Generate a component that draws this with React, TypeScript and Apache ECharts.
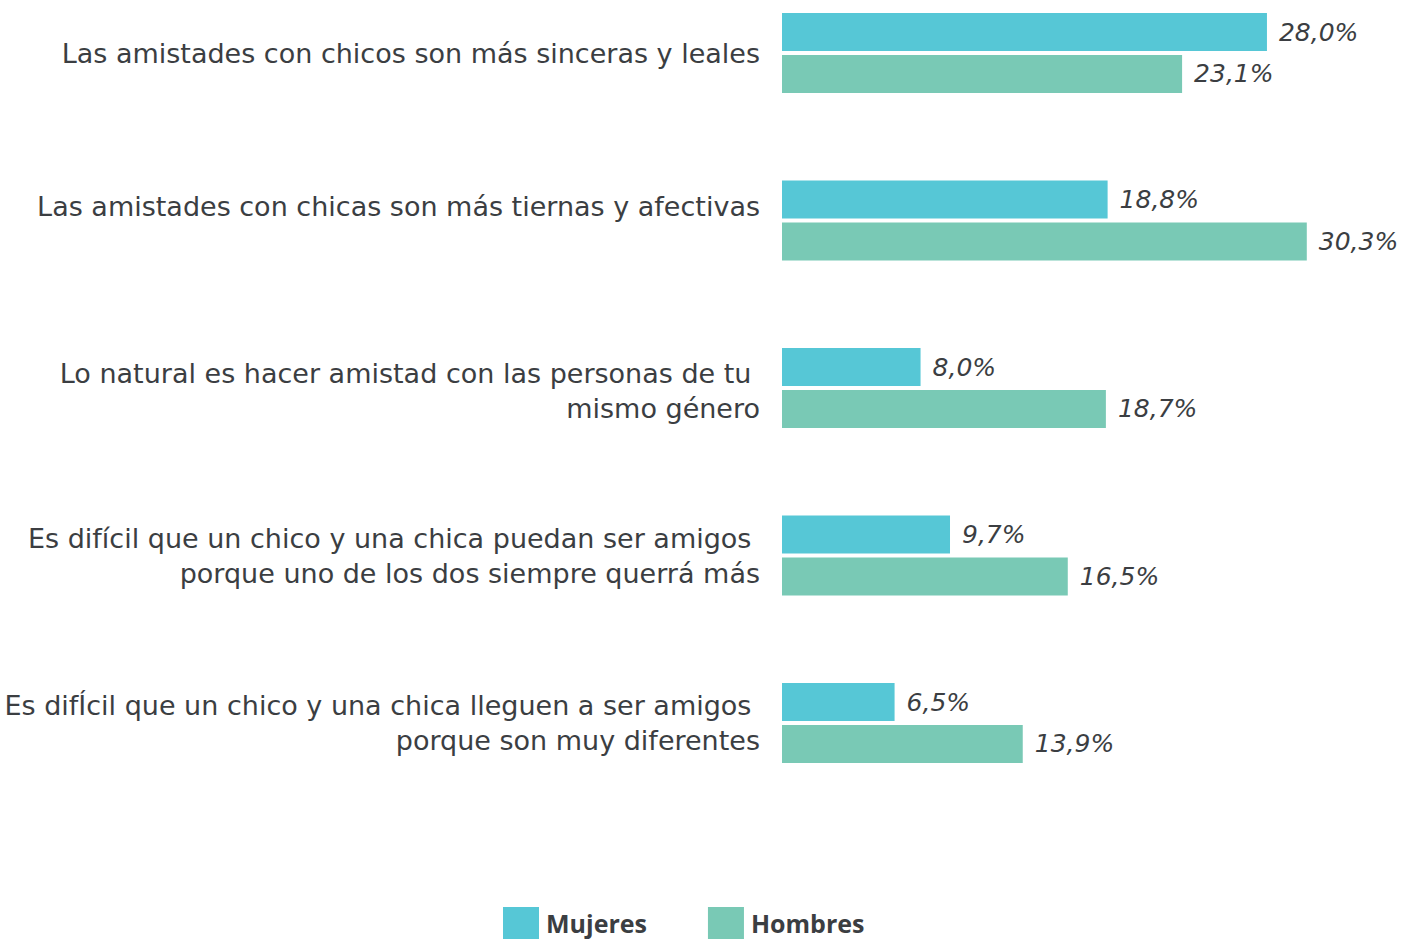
import React, { useEffect, useRef } from "react";
import * as echarts from "echarts";

const categories = [
  "Las amistades con chicos son más sinceras y leales",
  "Las amistades con chicas son más tiernas y afectivas",
  "Lo natural es hacer amistad con las personas de tu \nmismo género",
  "Es difícil que un chico y una chica puedan ser amigos \nporque uno de los dos siempre querrá más",
  "Es difÍcil que un chico y una chica lleguen a ser amigos \nporque son muy diferentes",
];
const mujeres = [28.0, 18.8, 8.0, 9.7, 6.5];
const hombres = [23.1, 30.3, 18.7, 16.5, 13.9];
const seriesNames = ["Mujeres", "Hombres"];
const colors = ["#56C7D6", "#79C9B5"];

const textColor = "#3b3e42";

export default function App() {
  const ref = useRef<HTMLDivElement>(null);
  useEffect(() => {
    if (!ref.current) return;
    const chart = echarts.init(ref.current, undefined, { renderer: "svg" });
    const labelOpt = {
      show: true,
      position: "right",
      distance: 12,
      color: textColor,
      fontFamily: "DejaVu Sans",
      fontStyle: "italic",
      fontSize: 25,
      formatter: (p: any) => p.value.toFixed(1).replace(".", ",") + "%",
    };
    const catFont = {
      color: textColor,
      fontFamily: "DejaVu Sans",
      fontSize: 27,
      lineHeight: 35,
    };
    chart.setOption({
      animation: false,
      grid: { left: 782, top: 53, width: 17.32 * 35, height: 670 },
      xAxis: {
        type: "value",
        min: 0,
        max: 35,
        show: false,
      },
      yAxis: {
        type: "category",
        data: categories,
        inverse: true,
        boundaryGap: false,
        axisLine: { show: false },
        axisTick: { show: false },
        splitLine: { show: false },
        axisLabel: {
          margin: 22,
          ...catFont,
          align: "right",
          formatter: (v: string, i: number) => {
            if (i === 1) return v.split("\n").map((l) => `{up|${l}}`).join("\n");
            if (i === 2) return v.split("\n").map((l) => `{dn|${l}}`).join("\n");
            return v;
          },
          rich: {
            up: { ...catFont, padding: [0, 0, 28, 0] },
            dn: { ...catFont, lineHeight: 35, padding: [6, 0, 0, 0] },
          },
        },
      },
      legend: {
        left: 503,
        top: 907,
        padding: 0,
        itemWidth: 36,
        itemHeight: 32,
        itemGap: 61,
        icon: "rect",
        textStyle: {
          color: textColor,
          fontFamily: "Open Sans",
          fontWeight: "bold",
          fontSize: 25,
          padding: [0, 0, 0, 2],
        },
        data: seriesNames,
      },
      series: [
        {
          name: seriesNames[0],
          type: "bar",
          data: mujeres,
          barWidth: 38,
          barGap: "10.5%",
          clip: false,
          itemStyle: { color: colors[0] },
          label: labelOpt,
        },
        {
          name: seriesNames[1],
          type: "bar",
          data: hombres,
          barWidth: 38,
          barGap: "10.5%",
          clip: false,
          itemStyle: { color: colors[1] },
          label: labelOpt,
        },
      ],
    });
    return () => chart.dispose();
  }, []);
  return (
    <div
      ref={ref}
      style={{ position: "fixed", left: 0, top: 0, width: 1413, height: 939, background: "#fff" }}
    />
  );
}
